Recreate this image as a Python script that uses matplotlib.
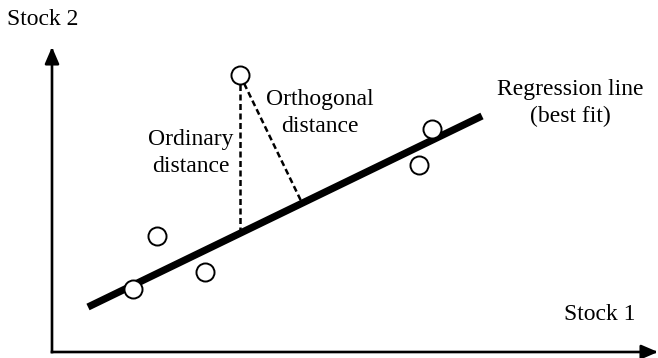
import matplotlib
matplotlib.use("Agg")
import matplotlib.pyplot as plt
import numpy as np
from matplotlib.patches import FancyArrowPatch

# sample observations (canvas units, origin bottom-left)
pts_x = [133, 157, 205, 240, 419, 432]
pts_y = [69, 122, 86, 283, 193, 229]

# regression line: y = slope * x + icpt, drawn between these x limits
slope = 0.4848
icpt = 8.34
line_x = [88, 482]

# the point used to show the two distances
far_pt = 3

# axes corner and arrow ends
origin = (52, 6)
x_end = 658
y_end = 311

plt.rcParams['font.family'] = ['Liberation Serif', 'DejaVu Serif']
fs = 17

fig = plt.figure(figsize=(6.58, 3.58), dpi=100)
ax = fig.add_axes([0, 0, 1, 1])
ax.set_xlim(0, 658)
ax.set_ylim(0, 358)
ax.axis('off')

# axes with arrows
for tip in [(x_end, origin[1]), (origin[0], y_end)]:
    arr = FancyArrowPatch(origin, tip, arrowstyle='-|>,head_length=10,head_width=4.3',
                          mutation_scale=1, lw=1.9, color='black',
                          shrinkA=0, shrinkB=0, capstyle='projecting')
    ax.add_patch(arr)

# regression line
lx = np.array(line_x, dtype=float)
ax.plot(lx, slope * lx + icpt, color='black', lw=5.2, solid_capstyle='butt', zorder=2)

# ordinary (vertical) distance
px, py = pts_x[far_pt], pts_y[far_pt]
ax.plot([px, px], [py, slope * px + icpt], color='black', lw=1.8,
        dashes=(2.4, 1.4), zorder=1)

# orthogonal distance: foot of the perpendicular on the line
u = np.array([1.0, slope]) / np.hypot(1.0, slope)
p0 = np.array([0.0, icpt])
t = np.dot(np.array([px, py]) - p0, u)
foot = p0 + t * u
ax.plot([px, foot[0]], [py, foot[1]], color='black', lw=1.8,
        dashes=(2.4, 1.4), zorder=1)

# observations
ax.plot(pts_x, pts_y, 'o', ms=13, mfc='white', mec='black', mew=1.4, zorder=3)

# labels
ax.text(7, 333, 'Stock 2', fontsize=fs, ha='left', va='baseline')
ax.text(635, 38, 'Stock 1', fontsize=fs, ha='right', va='baseline')
ax.text(190.5, 205, 'Ordinary\ndistance', fontsize=fs, ha='center', va='center',
        linespacing=1.4)
ax.text(320, 245, 'Orthogonal\ndistance', fontsize=fs, ha='center', va='center',
        linespacing=1.4)
ax.text(570, 255, 'Regression line\n(best fit)', fontsize=fs, ha='center', va='center',
        linespacing=1.4)

fig.savefig('out.png', dpi=100)
